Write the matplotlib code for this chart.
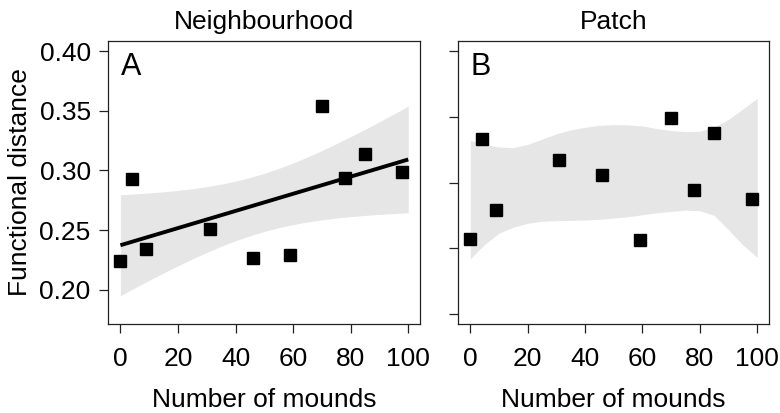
import matplotlib
matplotlib.use('Agg')
import matplotlib.pyplot as plt
import numpy as np

plt.rcParams['font.family'] = ['Liberation Sans', 'DejaVu Sans']

# number of mounds (same sites in both panels)
mounds = [0, 4, 9, 31, 46, 59, 70, 78, 85, 98]

# panel A: neighbourhood functional distance
neigh_dist = [0.224, 0.293, 0.234, 0.251, 0.227, 0.229, 0.354, 0.294, 0.314, 0.299]

# panel B: patch functional distance
patch_dist = [0.257, 0.333, 0.279, 0.317, 0.306, 0.2565, 0.349, 0.294, 0.338, 0.2875]

# panel B smooth confidence band
band_x = [0, 5, 10, 15, 20, 25, 30, 35, 40, 45, 50, 55, 60, 65, 70, 75, 80, 85, 90, 95, 100]
band_hi = [0.332, 0.329, 0.327, 0.3265, 0.329, 0.333, 0.337, 0.340, 0.342, 0.3435, 0.344,
           0.3438, 0.343, 0.341, 0.3395, 0.3387, 0.339, 0.342, 0.348, 0.356, 0.364]
band_lo = [0.242, 0.253, 0.2615, 0.266, 0.269, 0.2705, 0.271, 0.2712, 0.2715, 0.272, 0.273,
           0.274, 0.2755, 0.277, 0.278, 0.279, 0.2785, 0.275, 0.264, 0.2525, 0.243]

yticks = [0.20, 0.25, 0.30, 0.35, 0.40]
xticks = [0, 20, 40, 60, 80, 100]

band_col = '#e6e6e6'
fs = 19

fig = plt.figure(figsize=(7.8, 4.13), dpi=100)
axA = fig.add_axes([0.1385, 0.2155, 0.4, 0.6852])
axB = fig.add_axes([0.5872, 0.2155, 0.3987, 0.6852])

# linear fit with 95% band for panel A
x = np.array(mounds, dtype=float)
y = np.array(neigh_dist)
n = len(x)
slope, icpt = np.polyfit(x, y, 1)
resid = y - (icpt + slope * x)
s = np.sqrt(np.sum(resid ** 2) / (n - 2))
sxx = np.sum((x - x.mean()) ** 2)
xs = np.linspace(0, 100, 101)
fit = icpt + slope * xs
se = s * np.sqrt(1.0 / n + (xs - x.mean()) ** 2 / sxx)
axA.fill_between(xs, fit - 1.96 * se, fit + 1.96 * se, color=band_col, lw=0, zorder=1)
axA.plot(xs, fit, color='black', lw=2.8, solid_capstyle='butt', zorder=2)
axA.plot(mounds, neigh_dist, 's', color='black', ms=8, zorder=3)

axB.fill_between(band_x, band_lo, band_hi, color=band_col, lw=0, zorder=1)
axB.plot(mounds, patch_dist, 's', color='black', ms=8, zorder=3)

for ax in (axA, axB):
    ax.set_xlim(-4.3, 104.1)
    ax.set_xticks(xticks)
    ax.set_yticks(yticks)
    ax.tick_params(direction='out', length=6.5, width=0.9, color='#222222',
                   labelsize=fs, pad=6)
    ax.tick_params(axis='x', pad=10)
    for sp in ax.spines.values():
        sp.set_linewidth(0.9)
        sp.set_color('#222222')
    ax.set_xlabel('Number of mounds', fontsize=fs, labelpad=12)

axA.set_ylim(0.1715, 0.4084)
axB.set_ylim(0.1924, 0.4076)
axB.set_yticklabels([])

axA.set_ylabel('Functional distance', fontsize=fs, labelpad=5)
axA.set_title('Neighbourhood', fontsize=fs, pad=9)
axB.set_title('Patch', fontsize=fs, pad=9)

axA.text(0.04, 0.96, 'A', transform=axA.transAxes, fontsize=22, va='top', ha='left')
axB.text(0.04, 0.96, 'B', transform=axB.transAxes, fontsize=22, va='top', ha='left')

fig.savefig('out.png', dpi=100)
plt.close(fig)
